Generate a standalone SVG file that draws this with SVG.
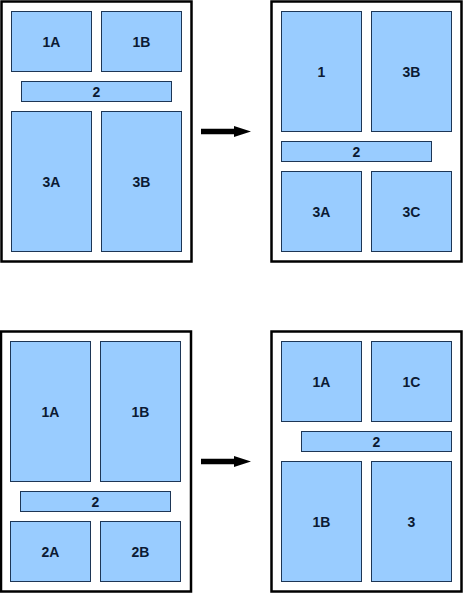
<svg xmlns="http://www.w3.org/2000/svg" width="463" height="593" viewBox="0 0 463 593">
<style>
.frame{fill:#fff;stroke:#000;stroke-width:2.5}
.box{fill:#99ccff;stroke:#1d3656;stroke-width:1}
.lbl{font-family:"Liberation Sans",Arial,sans-serif;font-weight:bold;font-size:14px;fill:#0c1a33;text-anchor:middle;dominant-baseline:central}
.arrow{fill:#000}
</style>
<rect width="463" height="593" fill="#fff"/>
<g id="panel-top-left">
<rect class="frame" x="1.5" y="1.5" width="190" height="260"/>
<g id="tl-1A"><rect class="box" x="11.5" y="11.5" width="80" height="60"/><text class="lbl" x="51.5" y="41.5">1A</text></g>
<g id="tl-1B"><rect class="box" x="101.5" y="11.5" width="80" height="60"/><text class="lbl" x="141.5" y="41.5">1B</text></g>
<g id="tl-2"><rect class="box" x="21.5" y="81.5" width="150" height="20"/><text class="lbl" x="96.5" y="91.5">2</text></g>
<g id="tl-3A"><rect class="box" x="11.5" y="111.5" width="80" height="140"/><text class="lbl" x="51.5" y="181.5">3A</text></g>
<g id="tl-3B"><rect class="box" x="101.5" y="111.5" width="80" height="140"/><text class="lbl" x="141.5" y="181.5">3B</text></g>
</g>
<g id="panel-top-right">
<rect class="frame" x="271.5" y="1.5" width="190" height="260"/>
<g id="tr-1"><rect class="box" x="281.5" y="11.5" width="80" height="120"/><text class="lbl" x="321.5" y="71.5">1</text></g>
<g id="tr-3B"><rect class="box" x="371.5" y="11.5" width="80" height="120"/><text class="lbl" x="411.5" y="71.5">3B</text></g>
<g id="tr-2"><rect class="box" x="281.5" y="141.5" width="150" height="20"/><text class="lbl" x="356.5" y="151.5">2</text></g>
<g id="tr-3A"><rect class="box" x="281.5" y="171.5" width="80" height="80"/><text class="lbl" x="321.5" y="211.5">3A</text></g>
<g id="tr-3C"><rect class="box" x="371.5" y="171.5" width="80" height="80"/><text class="lbl" x="411.5" y="211.5">3C</text></g>
</g>
<g id="panel-bottom-left">
<rect class="frame" x="1" y="331.5" width="190" height="260"/>
<g id="bl-1A"><rect class="box" x="10.5" y="341.5" width="80" height="140"/><text class="lbl" x="50.5" y="411.5">1A</text></g>
<g id="bl-1B"><rect class="box" x="100.5" y="341.5" width="80" height="140"/><text class="lbl" x="140.5" y="411.5">1B</text></g>
<g id="bl-2"><rect class="box" x="20.5" y="491.5" width="150" height="20"/><text class="lbl" x="95.5" y="501.5">2</text></g>
<g id="bl-2A"><rect class="box" x="10.5" y="521.5" width="80" height="60"/><text class="lbl" x="50.5" y="551.5">2A</text></g>
<g id="bl-2B"><rect class="box" x="100.5" y="521.5" width="80" height="60"/><text class="lbl" x="140.5" y="551.5">2B</text></g>
</g>
<g id="panel-bottom-right">
<rect class="frame" x="271.5" y="331.5" width="190" height="260"/>
<g id="br-1A"><rect class="box" x="281.5" y="341.5" width="80" height="80"/><text class="lbl" x="321.5" y="381.5">1A</text></g>
<g id="br-1C"><rect class="box" x="371.5" y="341.5" width="80" height="80"/><text class="lbl" x="411.5" y="381.5">1C</text></g>
<g id="br-2"><rect class="box" x="301.5" y="431.5" width="150" height="20"/><text class="lbl" x="376.5" y="441.5">2</text></g>
<g id="br-1B"><rect class="box" x="281.5" y="461.5" width="80" height="120"/><text class="lbl" x="321.5" y="521.5">1B</text></g>
<g id="br-3"><rect class="box" x="371.5" y="461.5" width="80" height="120"/><text class="lbl" x="411.5" y="521.5">3</text></g>
</g>
<g id="connectors">
<path class="arrow" d="M201,128.8 H234 V126 L251,131.5 L234,137 V134.2 H201 Z"/>
<path class="arrow" d="M201,458.8 H234 V456 L251,461.5 L234,467 V464.2 H201 Z"/>
</g>
</svg>
